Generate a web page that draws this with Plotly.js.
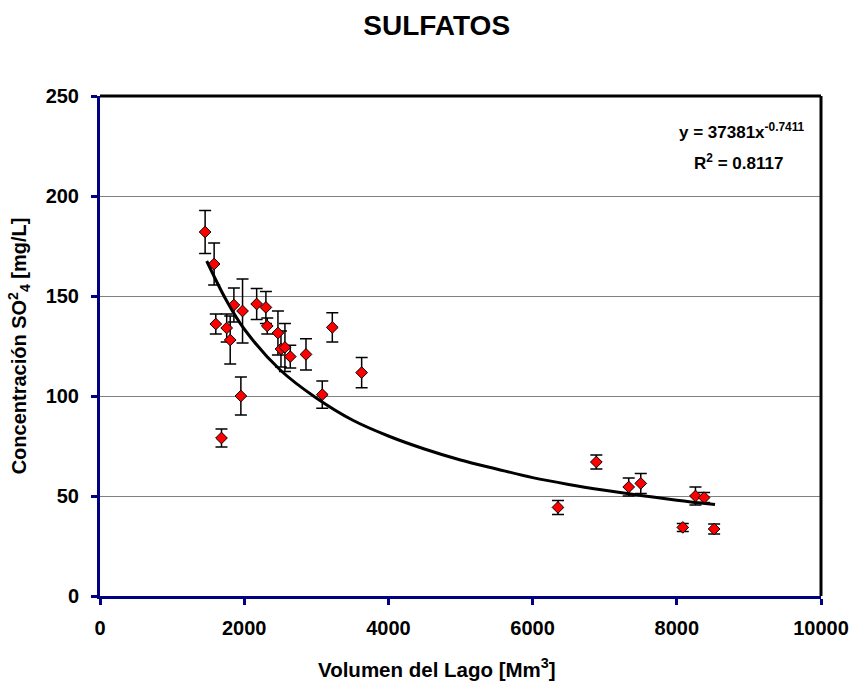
<!DOCTYPE html>
<html>
<head>
<meta charset="utf-8">
<script src="https://cdn.plot.ly/plotly-3.0.1.min.js"></script>
<style>html,body{margin:0;padding:0;background:#fff;}#chart{width:858px;height:683px;}</style>
</head>
<body>
<div id="chart"></div>
<script>
// Measured points (lake volume vs sulfate concentration)
const volumen = [1458, 1583, 1606, 1685, 1757, 1806, 1857, 1954, 1977, 2173, 2301, 2320, 2468, 2510, 2565, 2639, 2857, 3083, 3222, 3629, 6352, 6884, 7333, 7500, 8083, 8259, 8379, 8518];
const sulfato = [182, 166, 136, 79, 134, 128, 145.5, 100, 142.5, 146, 144.3, 135, 131.5, 123.5, 124.3, 119.7, 120.8, 100.7, 134.3, 111.7, 44.3, 67, 54.5, 56.3, 34.3, 50, 49.2, 33.5];
const errorSulfato = [10.7, 10.5, 5, 4.5, 7, 12, 8.5, 9.5, 16, 7.7, 8, 4, 11, 9, 12, 5.7, 7.8, 6.8, 7.3, 7.6, 3.5, 3.5, 4.5, 5, 2, 4.5, 2.5, 2.5];

// Power trendline
const trendX = [1480, 1750, 2000, 2500, 3000, 3500, 4000, 4500, 5000, 5500, 6000, 6500, 7000, 7500, 8000, 8530];
const trendY = [167.5, 148, 133.5, 113, 99, 88, 80, 73.5, 68, 63.5, 59.2, 55.8, 52.9, 50.3, 47.9, 45.7];

const xTicks = [0, 2000, 4000, 6000, 8000, 10000];
const yTicks = [0, 50, 100, 150, 200, 250];

const titulo = 'SULFATOS';
const tituloX = 'Volumen del Lago [Mm<sup>3</sup>]';
const tituloY = 'Concentración SO<sup>2</sup><sub>4</sub> [mg/L]';
const ecuacion = 'y = 37381x<sup>-0.7411</sup>';
const r2 = 'R<sup>2</sup> = 0.8117';

const FONT = 'Liberation Sans, Arial, sans-serif';
const NAVY = '#000080';

const data = [
  {
    x: volumen, y: sulfato, type: 'scatter', mode: 'markers',
    marker: {symbol: 'diamond', size: 9, color: '#FF0000', line: {color: '#000000', width: 1}},
    error_y: {type: 'data', array: errorSulfato, visible: true, color: '#000000', thickness: 1.5, width: 6},
    hoverinfo: 'x+y', showlegend: false
  },
  {
    x: trendX, y: trendY, type: 'scatter', mode: 'lines',
    line: {color: '#000000', width: 3, shape: 'spline'},
    hoverinfo: 'skip', showlegend: false
  }
];

const layout = {
  width: 858, height: 683,
  margin: {l: 100, r: 37, t: 96, b: 87},
  paper_bgcolor: '#ffffff', plot_bgcolor: '#ffffff',
  font: {family: FONT, color: '#000000', size: 20, weight: 'bold'},
  title: {text: titulo, font: {family: FONT, size: 28, weight: 'bold', color: '#000'}, x: 0.467, xref: 'paper', xanchor: 'center', y: 0.963, yanchor: 'middle'},
  xaxis: {
    range: [0, 10000], tickmode: 'array', tickvals: xTicks, ticktext: xTicks.map(String),
    showgrid: false, zeroline: false,
    showline: true, linecolor: NAVY, linewidth: 3,
    ticks: 'outside', ticklen: 6, tickwidth: 3, tickcolor: NAVY,
    tickfont: {family: FONT, size: 20, weight: 'bold', color: '#000'},
    ticklabelstandoff: 6,
    automargin: false
  },
  yaxis: {
    range: [0, 250], tickmode: 'array', tickvals: yTicks, ticktext: yTicks.map(String),
    showgrid: true, gridcolor: '#808080', gridwidth: 1,
    zeroline: false,
    showline: true, linecolor: NAVY, linewidth: 3,
    ticks: 'outside', ticklen: 6, tickwidth: 3, tickcolor: NAVY,
    tickfont: {family: FONT, size: 20, weight: 'bold', color: '#000'},
    ticklabelstandoff: 8,
    title: {text: tituloY, font: {family: FONT, size: 20, weight: 'bold', color: '#000'}, standoff: 14},
    automargin: false
  },
  shapes: [
    {type: 'line', xref: 'paper', yref: 'paper', x0: 0, x1: 1, y0: 1, y1: 1, line: {color: '#000000', width: 3}},
    {type: 'line', xref: 'paper', yref: 'paper', x0: 1, x1: 1, y0: 0, y1: 1, line: {color: '#000000', width: 3}}
  ],
  annotations: [
    {text: tituloX, xref: 'paper', yref: 'paper', x: 0.467, y: -0.144, xanchor: 'center', yanchor: 'middle', showarrow: false, font: {family: FONT, size: 20.5, weight: 'bold', color: '#000'}},
    {text: ecuacion, xref: 'paper', yref: 'paper', x: 0.89, y: 0.93, xanchor: 'center', yanchor: 'middle', showarrow: false, font: {family: FONT, size: 17, weight: 'bold', color: '#000'}},
    {text: r2, xref: 'paper', yref: 'paper', x: 0.885, y: 0.868, xanchor: 'center', yanchor: 'middle', showarrow: false, font: {family: FONT, size: 17, weight: 'bold', color: '#000'}}
  ]
};

Plotly.newPlot('chart', data, layout, {displayModeBar: false, staticPlot: true});
</script>
</body>
</html>
